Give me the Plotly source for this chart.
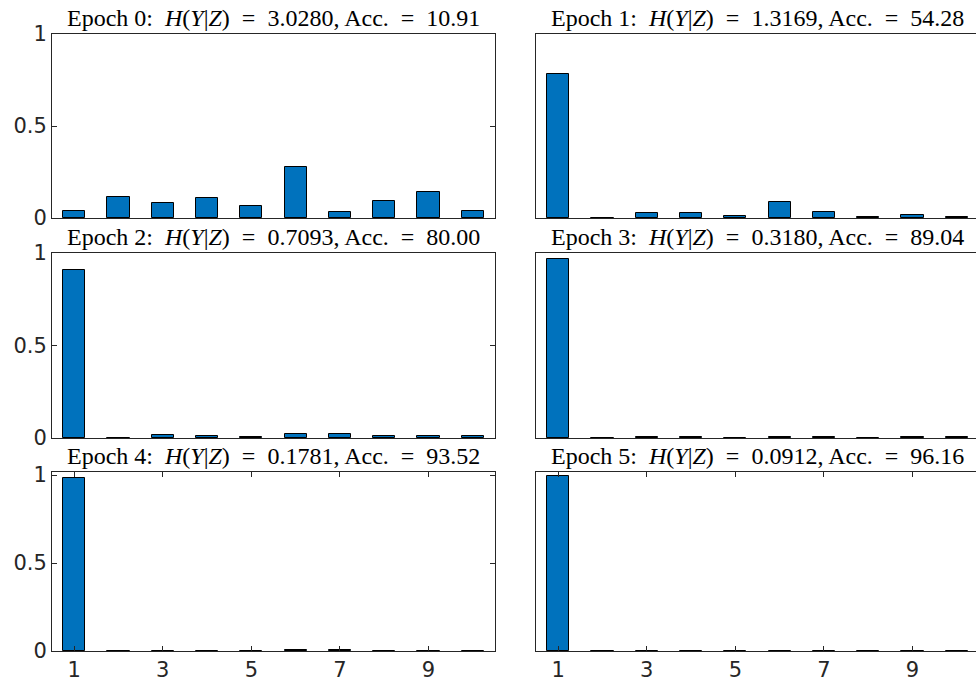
import plotly.graph_objects as go

classes = [1, 2, 3, 4, 5, 6, 7, 8, 9, 10]
epochs = [0, 1, 2, 3, 4, 5]
entropy = ["3.0280", "1.3169", "0.7093", "0.3180", "0.1781", "0.0912"]
accuracy = ["10.91", "54.28", "80.00", "89.04", "93.52", "96.16"]

p_epoch0 = [0.038, 0.114, 0.081, 0.110, 0.067, 0.276, 0.031, 0.095, 0.142, 0.038]
p_epoch1 = [0.784, 0.001, 0.025, 0.027, 0.009, 0.085, 0.034, 0.007, 0.014, 0.007]
p_epoch2 = [0.910, 0.001, 0.014, 0.011, 0.005, 0.022, 0.020, 0.009, 0.009, 0.009]
p_epoch3 = [0.967, 0.001, 0.005, 0.004, 0.002, 0.006, 0.006, 0.002, 0.003, 0.004]
p_epoch4 = [0.985, 0.001, 0.002, 0.002, 0.001, 0.003, 0.004, 0.001, 0.002, 0.001]
p_epoch5 = [0.993, 0.0005, 0.001, 0.001, 0.0005, 0.001, 0.002, 0.0005, 0.001, 0.0005]
probs = [p_epoch0, p_epoch1, p_epoch2, p_epoch3, p_epoch4, p_epoch5]

xtick_vals = [1, 3, 5, 7, 9]
ytick_vals = [0, 0.5, 1]
ytick_text = ["0", "0.5", "1"]

W, H = 976, 685
AX = "#262626"
BAR = "#0072BD"

col_px = [(52, 495), (536, 976)]
row_px = [(34, 218), (253, 438), (472, 651)]
unit = (495 - 52) / 10.0
SP = "\u2002"

fig = go.Figure()
annotations = []
for i, vals in enumerate(probs):
    r, c = divmod(i, 2)
    n = i + 1
    xa = "x" if n == 1 else f"x{n}"
    ya = "y" if n == 1 else f"y{n}"
    fig.add_trace(go.Bar(
        x=classes, y=vals, width=0.5, xaxis=xa, yaxis=ya,
        marker=dict(color=BAR, line=dict(color="#000000", width=1)),
        showlegend=False, hoverinfo="skip"))
    x0, x1 = col_px[c]
    y0, y1 = row_px[r]
    xr_end = 0.5 + (x1 - x0) / unit
    ytop = 1.0 if r < 2 else 1.0 + 3 / ((y1 - y0) - 3)
    bottom = (r == 2)
    xkw = dict(domain=[x0 / W, x1 / W], range=[0.5, xr_end], showline=True,
               linecolor=AX, linewidth=1, showgrid=False, zeroline=False,
               anchor=ya, fixedrange=True, automargin=False)
    if bottom:
        xkw.update(tickvals=xtick_vals, ticktext=[str(v) for v in xtick_vals],
                   ticks="inside", ticklen=5, tickcolor=AX, mirror="ticks",
                   tickfont=dict(family="DejaVu Sans", size=21, color=AX))
    else:
        xkw.update(tickvals=[], showticklabels=False, mirror=True)
    ykw = dict(domain=[1 - y1 / H, 1 - y0 / H], range=[0, ytop], showline=True,
               linecolor=AX, linewidth=1, showgrid=False, zeroline=False,
               anchor=xa, fixedrange=True, automargin=False)
    if c == 0:
        ykw.update(tickvals=ytick_vals, ticktext=ytick_text, ticks="inside",
                   ticklen=5, tickcolor=AX, mirror="ticks",
                   tickfont=dict(family="DejaVu Sans", size=21, color=AX))
    else:
        ykw.update(tickvals=[], showticklabels=False, mirror=False)
    fig.update_layout({("xaxis" if n == 1 else f"xaxis{n}"): xkw,
                       ("yaxis" if n == 1 else f"yaxis{n}"): ykw})
    title = (f"Epoch {epochs[i]}:{SP}<i>H</i>(<i>Y</i>|<i>Z</i>){SP}={SP}{entropy[i]},"
             f"\u2009Acc.{SP}={SP}{accuracy[i]}")
    cx = ((x0 + x1) / 2 if c == 0 else (x0 + x0 + 443) / 2) / W
    annotations.append(dict(text=title, x=cx, y=1 - y0 / H, xref="paper", yref="paper",
                            xanchor="center", yanchor="bottom", showarrow=False,
                            yshift=1,
                            font=dict(family="Liberation Serif", size=24, color="#000000")))

fig.update_layout(width=W, height=H, margin=dict(l=0, r=0, t=0, b=0, autoexpand=False),
                  paper_bgcolor="white", plot_bgcolor="white",
                  annotations=annotations, bargap=0)
fig.write_html("out.html", config={"displayModeBar": False},
               post_script="document.body.style.margin='0';document.body.style.overflow='hidden';")
